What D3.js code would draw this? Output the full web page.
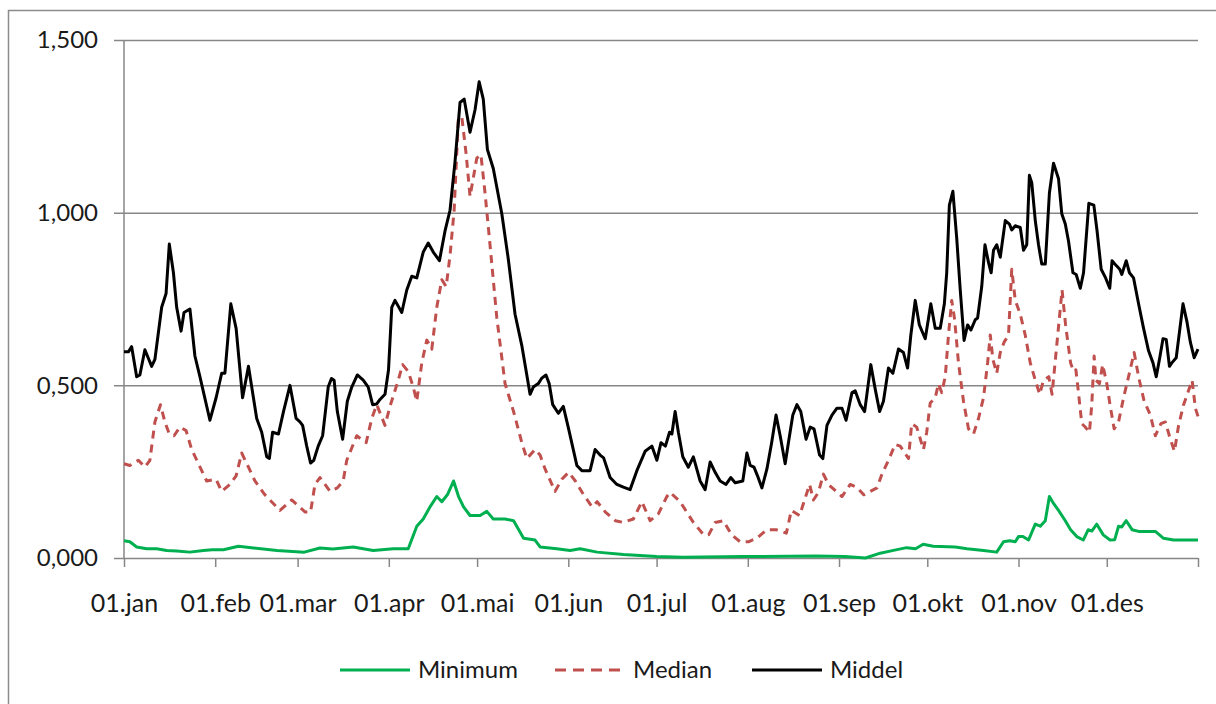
<!DOCTYPE html>
<html>
<head>
<meta charset="utf-8">
<script src="https://cdn.jsdelivr.net/npm/d3@7"></script>
<style>
  html, body { margin: 0; padding: 0; background: #fff; }
  svg { display: block; font-family: Lato, "Open Sans", sans-serif; }
</style>
</head>
<body>
<svg id="chart" width="1216" height="704"></svg>
<script>
// month starts (day of year) and labels
const monthDays = [0, 31, 59, 90, 120, 151, 181, 212, 243, 273, 304, 334, 365]
const monthLabels = ["01.jan", "01.feb", "01.mar", "01.apr", "01.mai", "01.jun",
  "01.jul", "01.aug", "01.sep", "01.okt", "01.nov", "01.des"]
const yTicks = [0, 0.5, 1.0, 1.5]

// Middel (black)
const midDays = [0, 1.5, 2.6, 4.3, 5.4, 7.1, 9.4, 10.5, 12.8, 14.3, 15.4, 16.8, 17.9, 19.4, 20.4, 22.4, 24.1, 25.8, 29.2, 31.3, 33.2, 34.3, 36.3, 38.1, 40.3, 42.3,
  45.1, 46.8, 48.5, 49.4, 50.5, 52.5, 54.2, 56.4, 58.5, 59.8, 60.7, 62.1, 63.4, 64.5, 66.0, 67.5, 69.4, 70.5, 71.4, 72.5, 74.3, 75.9, 77.4, 79.3, 81.3, 83.0, 84.5, 85.9, 87.0, 88.7, 89.9, 91.0,
  92.1, 94.4, 96.1, 97.8, 99.5, 101.7, 103.4, 105.1, 107.2, 109.1, 110.8, 112.5, 114.2, 115.6, 117.6, 119.3, 120.7, 122.1, 123.5, 125.5, 128.4, 130.6, 132.9, 135.2, 138.0,
  139.1, 140.8, 141.9, 143.4, 144.5, 145.7, 147.6, 149.3, 151.1, 153.9, 155.6, 158.4, 160.1, 161.8, 163.0, 165.2, 167.5, 169.7, 172.0, 174.3, 177.1, 179.4, 181.1, 182.5, 184.0, 185.4, 186.2,
  187.3, 188.4, 189.9, 191.8, 193.5, 195.8, 197.5, 199.2, 200.9, 202.6, 204.6, 206.2, 207.7, 210.3, 211.7, 212.8, 214.1, 215.3, 216.8, 218.5, 220.1, 221.6, 223.0, 224.7, 225.8, 227.3, 228.7, 230.0, 231.8,
  233.2, 234.5, 236.4, 237.5, 238.9, 240.6, 242.3, 244.0, 245.4, 247.4, 248.5, 250.2, 251.7, 253.8, 255.3, 256.8, 258.1, 259.8, 261.3, 263.2, 264.9, 266.3, 267.4, 268.9, 270.3, 272.3, 274.2, 275.7, 277.4, 278.8, 279.6, 280.5, 281.7,
  283.0, 284.2, 285.5, 286.7, 287.8, 289.3, 290.1, 291.5, 292.6, 293.8, 294.7, 295.5, 296.6, 297.8, 299.5, 300.9, 301.7, 302.9, 304.6, 305.7, 306.8, 307.7, 308.5, 309.7, 310.8, 311.9, 313.1, 314.5, 315.9, 317.6, 318.7, 319.9, 321.0, 322.5, 323.6, 325.0, 326.1,
  327.9, 329.6, 330.7, 332.1, 333.6, 335.0, 335.8, 337.3, 338.4, 339.1, 340.6, 341.7, 343.1, 344.8, 346.5, 348.2, 349.7, 350.8, 352.0, 353.1, 354.2, 355.3, 356.1, 357.6, 359.9, 361.2, 362.4, 363.7, 365]
const midVals = [0.597, 0.597, 0.612, 0.525, 0.530, 0.603, 0.555, 0.575, 0.726, 0.766, 0.909, 0.826, 0.726, 0.657, 0.711, 0.721, 0.585, 0.525, 0.399, 0.464, 0.535, 0.535, 0.736, 0.665, 0.464, 0.555,
  0.404, 0.364, 0.293, 0.288, 0.364, 0.359, 0.424, 0.500, 0.404, 0.394, 0.384, 0.324, 0.275, 0.283, 0.324, 0.354, 0.495, 0.520, 0.515, 0.424, 0.344, 0.454, 0.495, 0.530, 0.515, 0.495, 0.444, 0.446, 0.459, 0.474, 0.545, 0.726,
  0.746, 0.711, 0.776, 0.816, 0.811, 0.886, 0.912, 0.886, 0.861, 0.947, 1.007, 1.148, 1.319, 1.329, 1.233, 1.298, 1.379, 1.329, 1.183, 1.128, 0.997, 0.866, 0.706, 0.615, 0.474,
  0.495, 0.505, 0.520, 0.530, 0.505, 0.444, 0.419, 0.439, 0.374, 0.268, 0.253, 0.253, 0.314, 0.298, 0.290, 0.233, 0.213, 0.205, 0.198, 0.253, 0.309, 0.324, 0.283, 0.334, 0.324, 0.364, 0.359,
  0.424, 0.364, 0.293, 0.263, 0.293, 0.223, 0.198, 0.278, 0.248, 0.223, 0.213, 0.233, 0.218, 0.223, 0.304, 0.268, 0.263, 0.238, 0.203, 0.258, 0.334, 0.414, 0.354, 0.273, 0.334, 0.414, 0.444, 0.424, 0.344,
  0.379, 0.374, 0.298, 0.288, 0.384, 0.414, 0.434, 0.434, 0.399, 0.479, 0.484, 0.444, 0.424, 0.560, 0.489, 0.424, 0.454, 0.550, 0.535, 0.605, 0.595, 0.550, 0.645, 0.746, 0.675, 0.635, 0.736, 0.665, 0.665, 0.736, 0.826, 1.022, 1.062,
  0.926, 0.776, 0.630, 0.675, 0.660, 0.690, 0.695, 0.786, 0.907, 0.856, 0.826, 0.891, 0.907, 0.871, 0.977, 0.967, 0.950, 0.962, 0.957, 0.891, 0.907, 1.108, 1.087, 0.977, 0.907, 0.851, 0.851, 1.057, 1.143, 1.098, 0.997, 0.967, 0.917, 0.826, 0.821, 0.781, 0.826,
  1.027, 1.022, 0.947, 0.836, 0.811, 0.781, 0.861, 0.846, 0.836, 0.821, 0.861, 0.826, 0.811, 0.736, 0.665, 0.600, 0.565, 0.525, 0.580, 0.635, 0.633, 0.555, 0.565, 0.580, 0.736, 0.686, 0.625, 0.580, 0.605]

// Median (red dashed)
const medDays = [0, 2, 4.9, 7.1, 8.8, 10.5, 12.4, 13.9, 15.4, 17.0, 19.0, 21.1, 23.0, 25.3, 28.1, 31.3, 33.2, 36.0, 38.1, 40.0, 42.3,
  44.5, 47.9, 53.0, 57.0, 61.6, 63.4, 64.9, 66.6, 70.0, 72.5, 74.5, 75.7, 79.1, 82.3, 84.2, 85.9, 88.7, 90.4,
  93.2, 94.7, 96.6, 98.3, 99.5, 101.2, 102.9, 104.6, 106.3, 108.0, 109.5, 110.8, 112.2, 113.6, 114.8, 116.3, 117.6, 119.9, 121.3, 122.7, 124.4, 126.7, 129.5, 132.4, 135.2, 136.9, 139.7,
  141.4, 143.1, 146.5, 148.8, 151.1, 153.4, 156.2, 159.1, 160.8, 163.6, 167.0, 169.7, 173.1, 176.0, 178.8, 181.6, 184.5,
  185.6, 189.0, 193.5, 197.0, 198.7, 200.9, 203.7, 206.5, 209.4, 212.2, 215.0, 218.5, 221.6, 225.1, 226.8, 229.6, 233.0,
  234.3, 236.0, 237.7, 239.4, 241.1, 244.0, 246.8, 249.0, 251.4, 253.6, 255.9, 257.6, 259.8, 262.1, 263.8, 266.6, 267.7, 269.4, 271.7, 272.8, 274.0, 275.7, 276.8, 277.9, 279.1, 280.2, 281.3,
  282.3, 283.6, 285.3, 287.0, 288.7, 290.4, 292.1, 293.5, 294.4, 295.3, 296.6, 297.8, 299.1, 300.6, 301.7, 302.9, 304.6, 306.3, 308.0, 309.7, 311.2, 312.5, 314.3, 315.4, 317.1, 318.8, 320.0, 321.7,
  322.7, 323.5, 324.3, 325.5, 326.6, 328.1, 328.9, 329.7, 330.3, 331.5, 332.6, 334.0, 335.1, 336.5, 338.0, 339.7, 341.4, 343.3, 344.8, 346.7, 348.8, 350.5, 352.4, 353.9, 355.6, 357.0, 358.4, 360.1, 361.8, 363.0, 364.1, 365]
const medVals = [0.273, 0.268, 0.283, 0.263, 0.283, 0.394, 0.444, 0.394, 0.359, 0.354, 0.379, 0.369, 0.314, 0.273, 0.223, 0.228, 0.193, 0.213, 0.238, 0.304, 0.263,
  0.223, 0.183, 0.138, 0.168, 0.133, 0.133, 0.213, 0.233, 0.193, 0.203, 0.223, 0.283, 0.354, 0.334, 0.404, 0.444, 0.384, 0.439,
  0.515, 0.560, 0.540, 0.495, 0.454, 0.565, 0.631, 0.605, 0.726, 0.806, 0.786, 0.876, 1.007, 1.268, 1.278, 1.168, 1.047, 1.158, 1.168, 1.057, 0.906, 0.696, 0.505, 0.424, 0.334, 0.288, 0.314,
  0.298, 0.258, 0.193, 0.228, 0.248, 0.223, 0.183, 0.148, 0.163, 0.133, 0.108, 0.103, 0.113, 0.163, 0.108, 0.128, 0.178,
  0.190, 0.163, 0.103, 0.067, 0.067, 0.103, 0.108, 0.067, 0.047, 0.047, 0.057, 0.082, 0.082, 0.072, 0.138, 0.123, 0.213,
  0.168, 0.190, 0.243, 0.213, 0.200, 0.178, 0.213, 0.205, 0.183, 0.193, 0.203, 0.243, 0.283, 0.329, 0.324, 0.288, 0.389, 0.379, 0.314, 0.364, 0.449, 0.464, 0.505, 0.479, 0.525, 0.645, 0.746,
  0.690, 0.565, 0.454, 0.374, 0.359, 0.404, 0.464, 0.565, 0.646, 0.575, 0.535, 0.595, 0.625, 0.645, 0.836, 0.746, 0.706, 0.645, 0.565, 0.515, 0.474, 0.515, 0.525, 0.474, 0.625, 0.776, 0.675, 0.565,
  0.540, 0.545, 0.485, 0.389, 0.380, 0.364, 0.444, 0.585, 0.515, 0.505, 0.560, 0.505, 0.444, 0.374, 0.394, 0.464, 0.525, 0.595, 0.525, 0.454, 0.414, 0.354, 0.389, 0.394, 0.344, 0.309, 0.384, 0.444, 0.485, 0.515, 0.434, 0.410]

// Minimum (green)
const minDays = [0, 2, 4.3, 7.7, 11.1, 14.5, 17.9, 22.4, 27, 30, 33.8, 38.9, 44, 52, 61.3, 66.6, 71, 77.9, 84.7, 91.5, 96.6, 99.5, 101.7, 104.0, 106.3, 108.0, 109.9, 112.0, 113.7, 115.4, 117.6, 121.0, 123.3, 125.5, 129.5, 132.4, 135.8, 139.7,
  141.4, 147.1, 151.6, 155, 160.8, 169.7, 181, 190, 210, 235, 245, 252, 257, 261.5, 266, 269, 271.6, 275, 282.5, 286.5, 292.1, 296.6, 298.9, 301, 302.9, 304.0, 305.5, 307.4, 309.7, 311.4, 313.1, 314.5, 315.9, 317.6, 319.9, 321.7,
  323.8, 326.0, 327.7, 328.9, 330.6, 332.8, 335.1, 336.7, 338.0, 339.1, 340.6, 342.6, 344.8, 350.5, 353.3, 356.7, 365]
const minVals = [0.050, 0.047, 0.032, 0.027, 0.027, 0.022, 0.020, 0.017, 0.022, 0.024, 0.024, 0.034, 0.029, 0.022, 0.017, 0.029, 0.026, 0.032, 0.022, 0.027, 0.027, 0.092, 0.113, 0.148, 0.178, 0.163, 0.183, 0.223, 0.178, 0.148, 0.123, 0.123, 0.135, 0.113, 0.113, 0.108, 0.057, 0.052,
  0.032, 0.027, 0.022, 0.027, 0.017, 0.010, 0.004, 0.002, 0.004, 0.006, 0.004, 0.000, 0.014, 0.022, 0.030, 0.027, 0.040, 0.034, 0.032, 0.027, 0.022, 0.017, 0.047, 0.050, 0.047, 0.062, 0.062, 0.052, 0.098, 0.092, 0.108, 0.178, 0.158, 0.138, 0.108, 0.082,
  0.062, 0.052, 0.082, 0.078, 0.098, 0.067, 0.052, 0.053, 0.092, 0.090, 0.108, 0.082, 0.077, 0.077, 0.057, 0.052, 0.052]

const series = [
  { name: "Minimum", days: minDays, vals: minVals, color: "#00b050", dash: null },
  { name: "Median", days: medDays, vals: medVals, color: "#c0504d", dash: "8,6" },
  { name: "Middel", days: midDays, vals: midVals, color: "#000000", dash: null }
]

const svg = d3.select("#chart")
const gridColor = "#878787"
const textColor = "#1a1a1a"

// outer frame
svg.append("rect")
  .attr("x", 8.5).attr("y", 10.5)
  .attr("width", 1230).attr("height", 710)
  .attr("fill", "#fff")
  .attr("stroke", "#8c8c8c").attr("stroke-width", 1.5)

const x = d3.scaleLinear().domain([0, 365]).range([124, 1198])
const y = d3.scaleLinear().domain([0, 1.5]).range([558, 40])

const fmt = v => d3.format(".3f")(v).replace(".", ",")

// horizontal grid + y axis
const yAxis = d3.axisLeft(y)
  .tickValues(yTicks)
  .tickSize(-(1198 - 114))
  .tickFormat(fmt)
  .tickPadding(16)
svg.append("g")
  .attr("transform", "translate(114,0)")
  .call(yAxis)
  .call(g => g.select(".domain").remove())
  .call(g => g.selectAll("line").attr("stroke", gridColor).attr("stroke-width", 1.5))
  .call(g => g.selectAll("text")
    .attr("font-size", 24).attr("fill", textColor)
    .attr("font-family", "Lato, 'Open Sans', sans-serif"))

svg.append("line")
  .attr("x1", 124).attr("x2", 124)
  .attr("y1", y(1.5)).attr("y2", y(0))
  .attr("stroke", gridColor).attr("stroke-width", 1.5)

// x axis
const xAxis = d3.axisBottom(x)
  .tickValues(monthDays)
  .tickSize(9)
  .tickPadding(27)
  .tickFormat((d, i) => monthLabels[i] || "")
svg.append("g")
  .attr("transform", `translate(0,${y(0)})`)
  .call(xAxis)
  .call(g => g.select(".domain").remove())
  .call(g => g.selectAll("line").attr("stroke", gridColor).attr("stroke-width", 1.5))
  .call(g => g.selectAll("text")
    .attr("font-size", 25).attr("fill", textColor)
    .attr("font-family", "Lato, 'Open Sans', sans-serif"))

// lines
const line = d3.line()
  .x(d => x(d[0]))
  .y(d => y(d[1]))

series.forEach(s => {
  const pts = s.days.map((d, i) => [d, s.vals[i]])
  svg.append("path")
    .datum(pts)
    .attr("fill", "none")
    .attr("stroke", s.color)
    .attr("stroke-width", 3)
    .attr("stroke-linejoin", "round")
    .attr("stroke-dasharray", s.dash)
    .attr("d", line)
})

// legend
const legendPos = [340, 555, 752]
const leg = svg.append("g")
series.forEach((s, i) => {
  const lx = legendPos[i]
  leg.append("line")
    .attr("x1", lx).attr("x2", lx + 70)
    .attr("y1", 670).attr("y2", 670)
    .attr("stroke", s.color).attr("stroke-width", 3)
    .attr("stroke-dasharray", s.dash ? "11,7" : null)
  leg.append("text")
    .attr("x", lx + 78).attr("y", 670)
    .attr("dy", "0.35em")
    .attr("font-size", 24).attr("fill", textColor)
    .text(s.name)
})
</script>
</body>
</html>
